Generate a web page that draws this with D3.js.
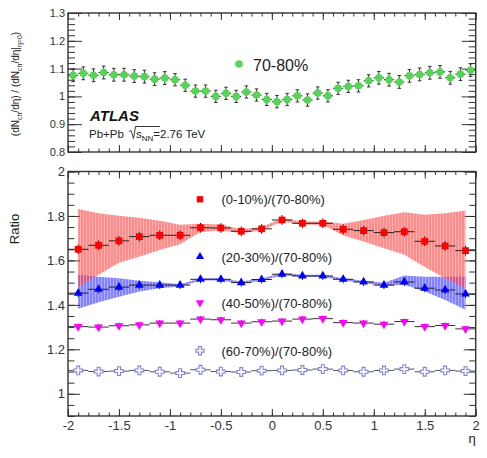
<!DOCTYPE html>
<html><head><meta charset="utf-8">
<script src="https://cdn.jsdelivr.net/npm/d3@7"></script>
<style>
html,body{margin:0;padding:0;background:#fff;}
text{font-family:"Liberation Sans",Arial,Helvetica,sans-serif;}
</style></head>
<body><svg id="chart" width="487" height="458"></svg>
<script>
// ---- data ----
const etaTop = [-1.95,-1.85,-1.75,-1.65,-1.55,-1.45,-1.35,-1.25,-1.15,-1.05,-0.95,-0.85,-0.75,-0.65,-0.55,-0.45,-0.35,-0.25,-0.15,-0.05,
                0.05,0.15,0.25,0.35,0.45,0.55,0.65,0.75,0.85,0.95,1.05,1.15,1.25,1.35,1.45,1.55,1.65,1.75,1.85,1.95];
const topVals = [1.076,1.083,1.076,1.086,1.078,1.078,1.073,1.071,1.062,1.066,1.060,1.040,1.019,1.019,1.000,1.011,1.000,1.016,1.005,0.989,
                 0.981,0.989,1.002,0.987,1.012,1.002,1.029,1.036,1.038,1.056,1.067,1.060,1.052,1.074,1.079,1.085,1.088,1.067,1.080,1.094];
const topErr = [0.023,0.023,0.023,0.023,0.023,0.023,0.023,0.023,0.023,0.023,0.022,0.022,0.022,0.022,0.022,0.022,0.022,0.022,0.022,0.022,
                0.022,0.022,0.022,0.022,0.022,0.022,0.022,0.022,0.022,0.022,0.023,0.023,0.023,0.023,0.023,0.023,0.023,0.023,0.023,0.023];
const topLegend = "70-80%";

const etaR = [-1.9,-1.7,-1.5,-1.3,-1.1,-0.9,-0.7,-0.5,-0.3,-0.1,0.1,0.3,0.5,0.7,0.9,1.1,1.3,1.5,1.7,1.9];
const r0010   = [1.650,1.668,1.688,1.707,1.713,1.713,1.747,1.746,1.731,1.742,1.782,1.767,1.767,1.740,1.734,1.725,1.729,1.686,1.665,1.644];
const r0010Hi = [1.831,1.812,1.801,1.792,1.778,1.760,1.765,1.762,1.740,1.750,1.790,1.775,1.775,1.765,1.782,1.801,1.817,1.805,1.812,1.824];
const r0010Lo = [1.480,1.535,1.590,1.617,1.647,1.673,1.728,1.735,1.722,1.735,1.775,1.760,1.760,1.712,1.685,1.655,1.625,1.570,1.520,1.475];
const r0010Err = [0.022,0.022,0.022,0.022,0.022,0.022,0.022,0.022,0.022,0.022,0.022,0.022,0.022,0.022,0.022,0.022,0.022,0.022,0.022,0.022];

const r2030   = [1.453,1.470,1.480,1.489,1.489,1.489,1.515,1.515,1.500,1.514,1.538,1.530,1.530,1.515,1.503,1.489,1.503,1.475,1.467,1.449];
const r2030Hi = [1.535,1.527,1.520,1.508,1.502,1.493,1.520,1.520,1.505,1.519,1.543,1.535,1.535,1.520,1.508,1.500,1.532,1.527,1.527,1.527];
const r2030Lo = [1.382,1.412,1.437,1.460,1.475,1.483,1.510,1.510,1.495,1.509,1.533,1.525,1.525,1.510,1.498,1.485,1.490,1.460,1.422,1.378];
const r2030Err = [0.018,0.018,0.018,0.018,0.018,0.018,0.018,0.018,0.018,0.018,0.018,0.018,0.018,0.018,0.018,0.018,0.018,0.018,0.018,0.018];

const r4050   = [1.302,1.300,1.306,1.310,1.318,1.318,1.336,1.333,1.318,1.324,1.327,1.336,1.338,1.320,1.318,1.313,1.325,1.302,1.307,1.292];
const r4050Err = [0.014,0.014,0.014,0.014,0.014,0.014,0.014,0.014,0.014,0.014,0.014,0.014,0.014,0.014,0.014,0.014,0.014,0.014,0.014,0.014];

const r6070   = [1.105,1.100,1.102,1.105,1.099,1.093,1.108,1.100,1.098,1.104,1.105,1.107,1.111,1.105,1.099,1.105,1.111,1.099,1.105,1.102];
const r6070Err = [0.010,0.010,0.010,0.010,0.010,0.010,0.010,0.010,0.010,0.010,0.010,0.010,0.010,0.010,0.010,0.010,0.010,0.010,0.010,0.010];

const ratioLegend = ["(0-10%)/(70-80%)","(20-30%)/(70-80%)","(40-50%)/(70-80%)","(60-70%)/(70-80%)"];

const xTicks = [-2,-1.5,-1,-0.5,0,0.5,1,1.5,2];
const xTickLabels = ["-2","-1.5","-1","-0.5","0","0.5","1","1.5","2"];
const yTopTicks = [0.8,0.9,1.0,1.1,1.2,1.3];
const yTopTickLabels = ["0.8","0.9","1","1.1","1.2","1.3"];
const yBotTicks = [1.0,1.2,1.4,1.6,1.8,2.0];
const yBotTickLabels = ["1","1.2","1.4","1.6","1.8","2"];

// ---- layout ----
const svg = d3.select("#chart");
const L = 68, R = 475.7;
const x = d3.scaleLinear().domain([-2,2]).range([L,R]);
const yT = d3.scaleLinear().domain([0.8,1.3]).range([152,13]);
const yB = d3.scaleLinear().domain([0.9,2.0]).range([416,171.5]);
const axisCol = "#333";

const defs = svg.append("defs");
function stripe(id, col){
  const p = defs.append("pattern").attr("id",id).attr("patternUnits","userSpaceOnUse")
    .attr("width",3).attr("height",10);
  p.append("rect").attr("width",3).attr("height",10).attr("fill",col);
  p.append("rect").attr("x",2.2).attr("width",0.8).attr("height",10).attr("fill","rgba(255,255,255,0.45)");
}
stripe("redStripe","rgba(255,60,60,0.6)");
stripe("blueStripe","rgba(40,40,255,0.58)");

function minorTicks(lo, hi, step){ const out=[]; const n=Math.round((hi-lo)/step); for(let i=0;i<=n;i++) out.push(+(lo+i*step).toFixed(4)); return out; }

function drawAxes(y, yTicks, yLabels, yMinorStep, yDom, top, bottom, majLen, minLen, showX, yFont){
  const g = svg.append("g");
  const xMin = minorTicks(-2,2,0.1);
  const gx = g.append("g").attr("transform",`translate(0,${bottom})`)
    .call(d3.axisBottom(x).tickValues(xMin).tickSize(-3.5).tickFormat(""));
  const gx2 = g.append("g").attr("transform",`translate(0,${bottom})`)
    .call(d3.axisBottom(x).tickValues(xTicks).tickSize(-7).tickPadding(5)
      .tickFormat((d,i)=> showX ? xTickLabels[i] : ""));
  const gx3 = g.append("g").attr("transform",`translate(0,${top})`)
    .call(d3.axisTop(x).tickValues(xMin).tickSize(-3.5).tickFormat(""));
  const gx4 = g.append("g").attr("transform",`translate(0,${top})`)
    .call(d3.axisTop(x).tickValues(xTicks).tickSize(-7).tickFormat(""));
  const yMin = minorTicks(yDom[0], yDom[1], yMinorStep);
  const gy1 = g.append("g").attr("transform",`translate(${L},0)`)
    .call(d3.axisLeft(y).tickValues(yMin).tickSize(-minLen).tickFormat(""));
  const gy2 = g.append("g").attr("transform",`translate(${L},0)`)
    .call(d3.axisLeft(y).tickValues(yTicks).tickSize(-majLen).tickPadding(3).tickFormat((d,i)=>yLabels[i]));
  const gy3 = g.append("g").attr("transform",`translate(${R},0)`)
    .call(d3.axisRight(y).tickValues(yMin).tickSize(-minLen).tickFormat(""));
  const gy4 = g.append("g").attr("transform",`translate(${R},0)`)
    .call(d3.axisRight(y).tickValues(yTicks).tickSize(-majLen).tickFormat(""));
  [gx,gx2,gx3,gx4,gy1,gy2,gy3,gy4].forEach(a=>{
    a.select(".domain").remove();
    a.selectAll("line").attr("stroke",axisCol).attr("stroke-width",1);
  });
  gx2.selectAll("text").attr("font-size",13).attr("fill","#333").attr("font-family","Liberation Sans, Arial, sans-serif");
  gy2.selectAll("text").attr("font-size",yFont).attr("fill","#333").attr("font-family","Liberation Sans, Arial, sans-serif");
  g.append("rect").attr("x",L).attr("y",top).attr("width",R-L).attr("height",bottom-top)
    .attr("fill","none").attr("stroke",axisCol).attr("stroke-width",1.4);
}

// ---- top panel ----
drawAxes(yT, yTopTicks, yTopTickLabels, 0.02, [0.8,1.3], 13, 152, 14, 7, false, 11);

const gTop = svg.append("g");
etaTop.forEach((e,i)=>{
  const v = topVals[i], er = topErr[i];
  gTop.append("line").attr("x1",x(e-0.05)).attr("x2",x(e+0.05)).attr("y1",yT(v)).attr("y2",yT(v))
    .attr("stroke","#333").attr("stroke-width",1);
  gTop.append("line").attr("x1",x(e)).attr("x2",x(e)).attr("y1",yT(v-er)).attr("y2",yT(v+er))
    .attr("stroke","#333").attr("stroke-width",1);
  [v-er, v+er].forEach(b=> gTop.append("line").attr("x1",x(e)-1.8).attr("x2",x(e)+1.8)
    .attr("y1",yT(b)).attr("y2",yT(b)).attr("stroke","#333").attr("stroke-width",1));
});
gTop.selectAll("circle.pt").data(etaTop).enter().append("circle")
  .attr("cx",d=>x(d)).attr("cy",(d,i)=>yT(topVals[i])).attr("r",3.8).attr("fill","#55d455");

// top legend
svg.append("circle").attr("cx",239).attr("cy",64).attr("r",3.8).attr("fill","#55d455");
svg.append("text").attr("x",253).attr("y",71).attr("font-size",16).attr("fill","#222").text(topLegend);

// ATLAS label
svg.append("text").attr("x",90).attr("y",120.5).attr("font-size",15).attr("font-weight","bold")
  .attr("font-style","italic").attr("fill","#111").text("ATLAS");
const t2 = svg.append("text").attr("x",89).attr("y",138).attr("font-size",11.5).attr("fill","#222");
t2.append("tspan").text("Pb+Pb");
svg.append("path").attr("d","M129,131.5 L131,130.5 L133.5,138.5 L135.5,126.5 L160,126.5")
  .attr("fill","none").attr("stroke","#222").attr("stroke-width",0.9);
const t3 = svg.append("text").attr("x",136).attr("y",138).attr("font-size",11.5).attr("fill","#222");
t3.append("tspan").text("s");
t3.append("tspan").attr("font-size",8).attr("dy",2.5).text("NN");
t3.append("tspan").attr("dy",-2.5).text("=2.76 TeV");

// y label top
const yl = svg.append("text").attr("transform","translate(19,84) rotate(-90)").attr("text-anchor","middle")
  .attr("font-size",10).attr("fill","#222");
yl.append("tspan").text("(dN");
yl.append("tspan").attr("font-size",7).attr("dy",2.5).text("ch");
yl.append("tspan").attr("dy",-2.5).text("/dη) / (dN");
yl.append("tspan").attr("font-size",7).attr("dy",2.5).text("ch");
yl.append("tspan").attr("dy",-2.5).text("/dη|");
yl.append("tspan").attr("font-size",7).attr("dy",2.5).text("η=0");
yl.append("tspan").attr("dy",-2.5).text(")");

// ---- bottom panel ----
drawAxes(yB, yBotTicks, yBotTickLabels, 0.05, [0.9,2.0], 171.5, 416, 12, 6.5, true, 13);

const area = (hi, lo) => d3.area().x((d,i)=>x(etaR[i])).y0((d,i)=>yB(lo[i])).y1((d,i)=>yB(hi[i]));
svg.append("path").datum(etaR).attr("d", area(r2030Hi, r2030Lo)).attr("fill","url(#blueStripe)");
svg.append("path").datum(etaR).attr("d", area(r0010Hi, r0010Lo)).attr("fill","url(#redStripe)");

function series(vals, errs, col, symbolType, size, rot, hollow, barCol){
  const g = svg.append("g");
  etaR.forEach((e,i)=>{
    const v = vals[i], er = errs[i];
    g.append("line").attr("x1",x(e-0.1)).attr("x2",x(e+0.1)).attr("y1",yB(v)).attr("y2",yB(v))
      .attr("stroke",barCol).attr("stroke-width",1);
    g.append("line").attr("x1",x(e)).attr("x2",x(e)).attr("y1",yB(v-er)).attr("y2",yB(v+er))
      .attr("stroke",barCol).attr("stroke-width",1);
  });
  g.selectAll("path.m").data(etaR).enter().append("path")
    .attr("d", d3.symbol().type(symbolType).size(size))
    .attr("transform",(d,i)=>`translate(${x(d)},${yB(vals[i])}) rotate(${rot})`)
    .attr("fill", hollow ? "#fff" : col).attr("stroke", hollow ? col : "none").attr("stroke-width",1.1);
}
series(r6070, r6070Err, "#8080e0", d3.symbolCross, 42, 0, true, "#555");
series(r4050, r4050Err, "#ff00ff", d3.symbolTriangle, 34, 180, false, "#333");
series(r2030, r2030Err, "#0000ff", d3.symbolTriangle, 34, 0, false, "#222");
series(r0010, r0010Err, "#ff0000", d3.symbolSquare, 46, 0, false, "#222");

// bottom legend
const legY = [199.3, 256.7, 302.7, 350.7];
const legSym = [[d3.symbolSquare,40,0,"#ff0000",false],[d3.symbolTriangle,30,0,"#0000ff",false],
                [d3.symbolTriangle,30,180,"#ff00ff",false],[d3.symbolCross,38,0,"#8080e0",true]];
ratioLegend.forEach((t,i)=>{
  const s = legSym[i];
  svg.append("path").attr("d", d3.symbol().type(s[0]).size(s[1]))
    .attr("transform",`translate(200,${legY[i]}) rotate(${s[2]})`)
    .attr("fill", s[4] ? "#fff" : s[3]).attr("stroke", s[4] ? s[3] : "none").attr("stroke-width",1.1);
  svg.append("text").attr("x",221.5).attr("y",legY[i]+4.8).attr("font-size",13).attr("fill","#222").text(t);
});

// axis titles
svg.append("text").attr("transform","translate(19,229) rotate(-90)").attr("text-anchor","middle")
  .attr("font-size",13).attr("fill","#222").text("Ratio");
svg.append("text").attr("x",472).attr("y",443).attr("text-anchor","middle").attr("font-size",13)
  .attr("fill","#222").text("η");
</script></body></html>
